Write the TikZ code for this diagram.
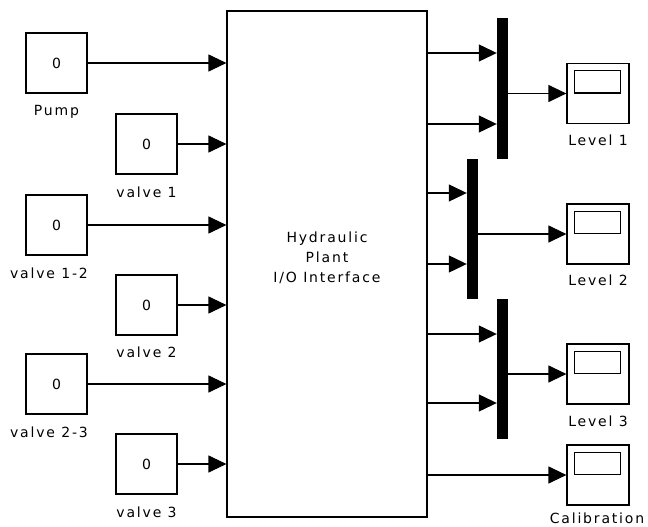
\documentclass[tikz,border=0pt]{standalone}
\usepackage{fontspec}
\setmainfont{DejaVu Sans}[LetterSpace=13]
\usetikzlibrary{arrows.meta}
\begin{document}
\begin{tikzpicture}[x=1pt,y=-1pt,
  every node/.style={font=\fontsize{14}{20}\selectfont},
  const/.style={draw, line width=1.2pt, minimum width=61pt, minimum height=60pt, inner sep=0pt},
  scopebox/.style={draw, line width=1.2pt, minimum width=62pt, minimum height=60pt, inner sep=0pt},
  muxbar/.style={fill=black, minimum width=11pt, minimum height=140pt, inner sep=0pt},
  plantbox/.style={draw, line width=1.2pt, minimum width=200pt, minimum height=506pt, inner sep=0pt},
  sig/.style={line width=1.2pt, -{Triangle[length=18pt,width=17pt]}},
  wire/.style={line width=1.2pt},
  lbl/.style={inner sep=0pt}
]
\useasboundingbox (0,0) rectangle (648,527);

% constants
\node[const] (pump) at (56.5,63) {0};
\node[const] (v1)   at (146.5,144) {0};
\node[const] (v12)  at (56.5,225) {0};
\node[const] (v2)   at (146.5,305) {0};
\node[const] (v23)  at (56.5,384) {0};
\node[const] (v3)   at (146.5,464) {0};

\node[lbl] (pumpl) at (56.5,112) {Pump};
\node[lbl] (v1l)   at (146.5,192) {valve 1};
\node[lbl] (v12l)  at (49,273) {valve 1-2};
\node[lbl] (v2l)   at (146.5,352) {valve 2};
\node[lbl] (v23l)  at (49,432) {valve 2-3};
\node[lbl] (v3l)   at (146.5,512) {valve 3};

% plant
\node[plantbox] (plant) at (327,264) {};
\node[align=center, lbl] (plantl) at (327,258) {Hydraulic\\Plant\\I/O Interface};

\foreach \n in {pump,v1,v12,v2,v23,v3}
  \draw[sig] (\n.east) -- (plant.west |- \n.east);

% muxes
\node[muxbar] (m1) at (502.5,88.5) {};
\node[muxbar] (m2) at (472.5,228.5) {};
\node[muxbar] (m3) at (502.5,369) {};

% scopes
\node[scopebox] (s1) at (598,93.5) {};
\node[scopebox] (s2) at (598,234) {};
\node[scopebox] (s3) at (598,374) {};
\node[scopebox] (s4) at (598,475) {};
\foreach \s in {s1,s2,s3,s4}
  \draw[wire] ([shift={(8,8)}]\s.north west) rectangle ++(46,22);

\node[lbl] (s1l) at (598,140) {Level 1};
\node[lbl] (s2l) at (598,280) {Level 2};
\node[lbl] (s3l) at (598,421) {Level 3};
\node[lbl] (s4l) at (597,518) {Calibration};

% plant outputs
\coordinate (o1) at (427,53);
\coordinate (o2) at (427,124);
\coordinate (o3) at (427,193);
\coordinate (o4) at (427,264);
\coordinate (o5) at (427,334);
\coordinate (o6) at (427,403);
\draw[sig] (o1) -- (m1.west |- o1);
\draw[sig] (o2) -- (m1.west |- o2);
\draw[sig] (o3) -- (m2.west |- o3);
\draw[sig] (o4) -- (m2.west |- o4);
\draw[sig] (o5) -- (m3.west |- o5);
\draw[sig] (o6) -- (m3.west |- o6);
\draw[sig] (plant.east |- s4.west) -- (s4.west);

% mux outputs
\draw[sig] (m1.east |- s1.west) -- (s1.west);
\draw[sig] (m2.east |- s2.west) -- (s2.west);
\draw[sig] (m3.east |- s3.west) -- (s3.west);
\end{tikzpicture}
\end{document}
